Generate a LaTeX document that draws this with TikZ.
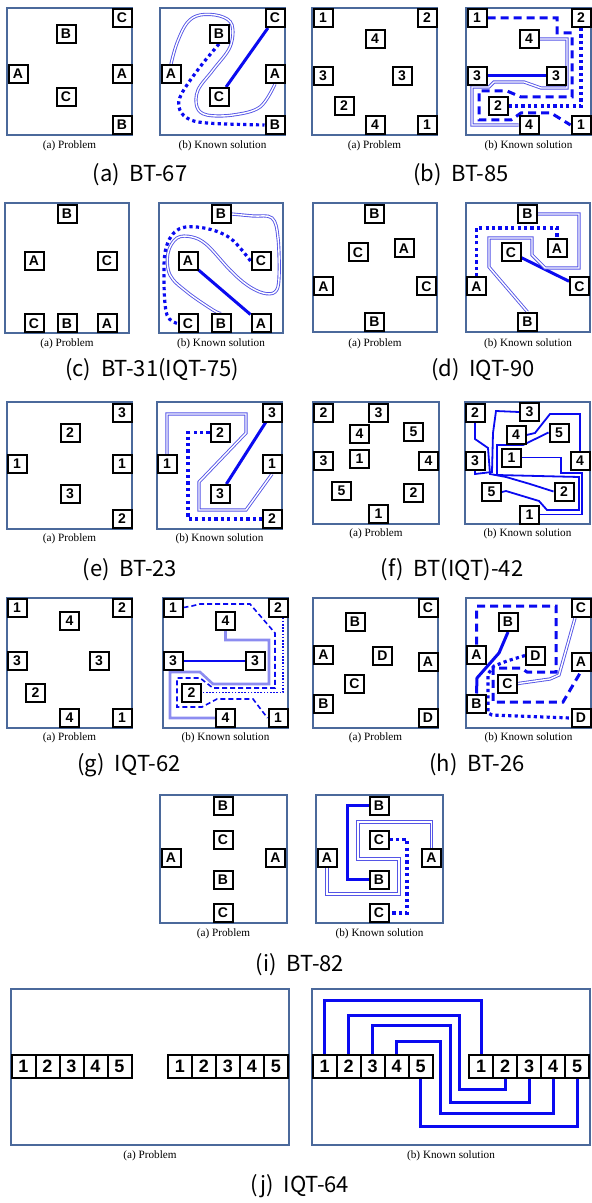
\documentclass[tikz,border=0pt]{standalone}
\usepackage{fontspec}
\setmainfont{Liberation Serif}
\newfontfamily\pinfont{Liberation Sans}
\newfontfamily\krfont{Noto Sans CJK KR}
\usetikzlibrary{backgrounds}

\definecolor{wireblue}{RGB}{10,10,240}
\definecolor{dblblue}{RGB}{85,85,230}
\definecolor{liteblue}{RGB}{140,140,240}
\definecolor{panelblue}{RGB}{75,105,155}

% Pin layouts (local panel coordinates, y runs downwards)
\newcommand\layoutA[1]{%
    \node[pin] (#1-C1) at (115,10) {C};
    \node[pin] (#1-B1) at (59,26) {B};
    \node[pin] (#1-A1) at (11,66) {A};
    \node[pin] (#1-A2) at (115,66) {A};
    \node[pin] (#1-C2) at (59,89) {C};
    \node[pin] (#1-B2) at (115,117) {B};
}
\newcommand\layoutB[1]{%
    \node[pin] (#1-1a) at (11,10) {1};
    \node[pin] (#1-2a) at (115,10) {2};
    \node[pin] (#1-4a) at (63,31) {4};
    \node[pin] (#1-3a) at (11,68) {3};
    \node[pin] (#1-3b) at (90,68) {3};
    \node[pin] (#1-2b) at (32,98) {2};
    \node[pin] (#1-4b) at (63,117) {4};
    \node[pin] (#1-1b) at (115,117) {1};
}
\newcommand\layoutC[1]{%
    \node[pin] (#1-B1) at (62,11) {B};
    \node[pin] (#1-A1) at (29,58) {A};
    \node[pin] (#1-C1) at (102,58) {C};
    \node[pin] (#1-C2) at (29,120.5) {C};
    \node[pin] (#1-B2) at (62,120.5) {B};
    \node[pin] (#1-A2) at (102,120.5) {A};
}
\newcommand\layoutD[1]{%
    \node[pin] (#1-B1) at (61.5,11) {B};
    \node[pin] (#1-C1) at (45,49.5) {C};
    \node[pin] (#1-A1) at (91,45.5) {A};
    \node[pin] (#1-A2) at (10.5,83.5) {A};
    \node[pin] (#1-C2) at (113.5,83.5) {C};
    \node[pin] (#1-B2) at (61.5,119) {B};
}
\newcommand\layoutE[1]{%
    \node[pin] (#1-3a) at (115,10.5) {3};
    \node[pin] (#1-2a) at (63,30.5) {2};
    \node[pin] (#1-1a) at (10,62) {1};
    \node[pin] (#1-1b) at (115,62) {1};
    \node[pin] (#1-3b) at (63,92) {3};
    \node[pin] (#1-2b) at (115,117) {2};
}
\newcommand\layoutG[1]{%
    \node[pin] (#1-1a) at (10,9.5) {1};
    \node[pin] (#1-2a) at (115,9.5) {2};
    \node[pin] (#1-4a) at (62.5,22.5) {4};
    \node[pin] (#1-3a) at (10,63) {3};
    \node[pin] (#1-3b) at (92,63) {3};
    \node[pin] (#1-2b) at (28.5,94.5) {2};
    \node[pin] (#1-4b) at (62.5,120) {4};
    \node[pin] (#1-1b) at (115,120) {1};
}
\newcommand\layoutH[1]{%
    \node[pin] (#1-C1) at (115,10) {C};
    \node[pin] (#1-B1) at (42,24) {B};
    \node[pin] (#1-A1) at (10.5,56.5) {A};
    \node[pin] (#1-D1) at (69.5,57.5) {D};
    \node[pin] (#1-A2) at (115,63.5) {A};
    \node[pin] (#1-C2) at (41.5,85.5) {C};
    \node[pin] (#1-B2) at (10.5,105.5) {B};
    \node[pin] (#1-D2) at (115,120) {D};
}
\newcommand\layoutI[1]{%
    \node[pin] (#1-B1) at (63,10.5) {B};
    \node[pin] (#1-C1) at (63,44.5) {C};
    \node[pin] (#1-A1) at (11,62.5) {A};
    \node[pin] (#1-A2) at (115.5,62.5) {A};
    \node[pin] (#1-B2) at (63,84.5) {B};
    \node[pin] (#1-C2) at (63,118) {C};
}
\newcommand\layoutJ[1]{%
    \node[widepin] (#1-L1) at (12.5,77) {1};
    \node[widepin] (#1-L2) at (36.5,77) {2};
    \node[widepin] (#1-L3) at (60.5,77) {3};
    \node[widepin] (#1-L4) at (84.5,77) {4};
    \node[widepin] (#1-L5) at (108.5,77) {5};
    \node[widepin] (#1-R1) at (169,77) {1};
    \node[widepin] (#1-R2) at (193,77) {2};
    \node[widepin] (#1-R3) at (217,77) {3};
    \node[widepin] (#1-R4) at (241,77) {4};
    \node[widepin] (#1-R5) at (265,77) {5};
}

\begin{document}
\begin{tikzpicture}[
    x=0.5pt, y=-0.5pt,
    pin/.style={
        draw,
        line width=1pt,
        fill=white,
        inner sep=0pt,
        minimum width=9.5pt,
        minimum height=9pt,
        font=\pinfont\bfseries\fontsize{7}{8}\selectfont
    },
    widepin/.style={
        pin,
        minimum width=12pt,
        minimum height=11.5pt,
        font=\pinfont\bfseries\fontsize{9}{10}\selectfont
    },
    panel/.style={draw=panelblue, line width=0.6pt},
    caption/.style={font=\fontsize{5.6}{6.5}\selectfont},
    title/.style={font=\krfont\fontsize{11}{12}\selectfont},
    wire/.style={draw=wireblue, line width=1.5pt},
    thinwire/.style={draw=wireblue, line width=0.9pt},
    dotwire/.style={draw=wireblue, line width=1.6pt, dash pattern=on 1.6pt off 1.6pt},
    dashwire/.style={draw=wireblue, line width=1.5pt, dash pattern=on 4pt off 2.5pt},
    thindash/.style={draw=wireblue, line width=0.8pt, dash pattern=on 2.5pt off 1.5pt},
    thindot/.style={draw=wireblue, line width=0.8pt, dash pattern=on 0.8pt off 0.8pt},
    dblwire/.style={draw=dblblue, double=white, line width=0.45pt, double distance=0.7pt},
    litewire/.style={draw=liteblue, line width=1.3pt}
]
    \useasboundingbox (0,0) rectangle (591,1203);

    % (a) BT-67
    \begin{scope}[shift={(7,8)}]
        \draw[panel] (0,0) rectangle (125,127);
        \layoutA{ap}
    \end{scope}
    \begin{scope}[shift={(160,8)}]
        \draw[panel] (0,0) rectangle (125,127);
        \layoutA{as}
        \begin{scope}[on background layer]
            \draw[wire] (as-C1) -- (as-C2);
            \draw[dotwire] plot[smooth, tension=0.6] coordinates {(as-B1.south) (40,59) (22,85) (19,99) (27,110) (47,115) (as-B2.west)};
            \draw[dblwire] plot[smooth, tension=0.6] coordinates {(as-A1.north) (17,35) (27,15) (40,7) (60,8) (72,17) (70,39) (53,62) (38,82) (37,99) (47,107) (73,107) (100,99) (as-A2.south)};
        \end{scope}
    \end{scope}
    \node[caption] (capAp) at (69.5,146) {(a) Problem};
    \node[caption] (capAs) at (222.5,146) {(b) Known solution};
    \node[title] (titleA) at (140,175) {(a)~~BT-67};

    % (b) BT-85
    \begin{scope}[shift={(312,8)}]
        \draw[panel] (0,0) rectangle (125,127);
        \layoutB{bp}
    \end{scope}
    \begin{scope}[shift={(466,8)}]
        \draw[panel] (0,0) rectangle (125,127);
        \layoutB{bs}
        \begin{scope}[on background layer]
            \draw[wire] (bs-3a) -- (bs-3b);
            \draw[dashwire] (bs-1a.east) -- (91,10) -- (91,25) -- (106,25) -- (106,89) -- (55,89) -- (41,83) -- (13,83) -- (13,112) -- (45,112) -- (55,105) -- (85,105) -- (bs-1b.west);
            \draw[dotwire] (bs-2a.south) |- (bs-2b.east);
            \draw[dblwire] (bs-4a.east) -- (101,31) -- (101,80) -- (75,80) -- (58,74) -- (28,74) -- (23,79) -- (6,79) -- (6,117) -- (bs-4b.west);
        \end{scope}
    \end{scope}
    \node[caption] (capBp) at (374.5,146) {(a) Problem};
    \node[caption] (capBs) at (528.5,146) {(b) Known solution};
    \node[title] (titleB) at (461,175) {(b)~~BT-85};

    % (c) BT-31(IQT-75)
    \begin{scope}[shift={(5,203)}]
        \draw[panel] (0,0) rectangle (124,130);
        \layoutC{cp}
    \end{scope}
    \begin{scope}[shift={(159,203)}]
        \draw[panel] (0,0) rectangle (124,130);
        \layoutC{cs}
        \begin{scope}[on background layer]
            \draw[wire] (cs-A1) -- (cs-A2);
            \draw[dotwire] plot[smooth, tension=0.6] coordinates {(cs-C1.west) (71,35) (45,25) (20,26) (7,45) (5,80) (8,112) (cs-C2.west)};
            \draw[dblwire] plot[smooth, tension=0.6] coordinates {(cs-B1.east) (94,13) (113,15) (119,35) (120,75) (116,89) (104,90) (88,82) (71,67) (48,42) (33,34) (18,35) (9,50) (11,72) (28,89) (54,107) (cs-B2.north)};
        \end{scope}
    \end{scope}
    \node[caption] (capCp) at (67,344) {(a) Problem};
    \node[caption] (capCs) at (221,344) {(b) Known solution};
    \node[title] (titleC) at (152,370) {(c)~~BT-31(IQT-75)};

    % (d) IQT-90
    \begin{scope}[shift={(313,203)}]
        \draw[panel] (0,0) rectangle (124,129);
        \layoutD{dp}
    \end{scope}
    \begin{scope}[shift={(466,203)}]
        \draw[panel] (0,0) rectangle (124,129);
        \layoutD{ds}
        \begin{scope}[on background layer]
            \draw[wire] (ds-C1) -- (ds-C2);
            \draw[dotwire] (ds-A2.north) |- (91,25) -| (ds-A1.north);
            \draw[dblwire] (ds-B1.east) -- (113,11) -- (113,65) -- (79,65) -- (66,52) -- (66,35) -- (23,35) -- (23,64) -- (ds-B2.north);
        \end{scope}
    \end{scope}
    \node[caption] (capDp) at (375,344) {(a) Problem};
    \node[caption] (capDs) at (528,344) {(b) Known solution};
    \node[title] (titleD) at (483,370) {(d)~~IQT-90};

    % (e) BT-23
    \begin{scope}[shift={(7,402)}]
        \draw[panel] (0,0) rectangle (125,127);
        \layoutE{ep}
    \end{scope}
    \begin{scope}[shift={(157,402)}]
        \draw[panel] (0,0) rectangle (125,127);
        \layoutE{es}
        \begin{scope}[on background layer]
            \draw[wire] (es-3a) -- (es-3b);
            \draw[dotwire] (es-2a.west) -| (31,116) |- (es-2b.west);
            \draw[dblwire] (es-1a.north) |- (89,12) -- (89,31) -- (42,80) -- (42,108) -- (89,108) -- (es-1b.south);
        \end{scope}
    \end{scope}
    \node[caption] (capEp) at (69.5,539) {(a) Problem};
    \node[caption] (capEs) at (219.5,539) {(b) Known solution};
    \node[title] (titleE) at (130,570) {(e)~~BT-23};

    % (f) BT(IQT)-42
    \begin{scope}[shift={(313,402)}]
        \draw[panel] (0,0) rectangle (126,122);
        \node[pin] (fp-2a) at (10.5,10.5) {2};
        \node[pin] (fp-3a) at (65.5,10.5) {3};
        \node[pin] (fp-4a) at (46.5,32) {4};
        \node[pin] (fp-5a) at (100.5,29.5) {5};
        \node[pin] (fp-3b) at (10.5,59) {3};
        \node[pin] (fp-1a) at (46.5,56.5) {1};
        \node[pin] (fp-4b) at (115.5,59) {4};
        \node[pin] (fp-5b) at (28.5,89) {5};
        \node[pin] (fp-2b) at (100.5,90.5) {2};
        \node[pin] (fp-1b) at (65.5,112) {1};
    \end{scope}
    \begin{scope}[shift={(465,402)}]
        \draw[panel] (0,0) rectangle (125,122);
        \node[pin] (fs-2a) at (10,11) {2};
        \node[pin] (fs-3a) at (64.5,10) {3};
        \node[pin] (fs-4a) at (51,33) {4};
        \node[pin] (fs-5a) at (94,30.5) {5};
        \node[pin] (fs-1a) at (46.5,55.5) {1};
        \node[pin] (fs-3b) at (10,59) {3};
        \node[pin] (fs-4b) at (115,59) {4};
        \node[pin] (fs-5b) at (26.5,90) {5};
        \node[pin] (fs-2b) at (99,89.5) {2};
        \node[pin] (fs-1b) at (64.5,112.5) {1};
        \begin{scope}[on background layer]
            \draw[thinwire] (fs-4a.east) -- (70,31) -- (85,12) -- (115,12) -- (fs-4b.north);
            \draw[thinwire] (fs-1a.east) -| (96,71) -| (117,90) |- (fs-1b.east);
            \draw[thinwire] (fs-5a.west) -- (58,43) -- (32,43) -- (32,73) -- (114,75) -- (114,108) -- (82,108) -- (74,99) -- (41,89) -- (fs-5b.east);
            \draw[thinwire] (fs-3a.west) -- (31,9) -- (28,31) -- (27,70) -- (10,72) -- (fs-3b.south);
            \draw[thinwire] (fs-2a.south) -- (10,37) -- (23,46) -- (25,72) -- (41,75) -- (65,82) -- (fs-2b.west);
        \end{scope}
    \end{scope}
    \node[caption] (capFp) at (376,534) {(a) Problem};
    \node[caption] (capFs) at (527.5,534) {(b) Known solution};
    \node[title] (titleF) at (452,570) {(f)~~BT(IQT)-42};

    % (g) IQT-62
    \begin{scope}[shift={(7,598)}]
        \draw[panel] (0,0) rectangle (125,130);
        \layoutG{gp}
    \end{scope}
    \begin{scope}[shift={(163,598)}]
        \draw[panel] (0,0) rectangle (125,130);
        \layoutG{gs}
        \begin{scope}[on background layer]
            \draw[thinwire] (gs-3a) -- (gs-3b);
            \draw[thindash] (gs-1a.east) -- (29,8) -- (37,6) -- (87,6) -- (112,35) -- (112,90) -- (50,90) -- (37,80) -- (14,80) -- (14,109) -- (39,109) -- (54,101) -- (90,101) -- (gs-1b.west);
            \draw[thindot] ([xshift=2.5pt]gs-2a.south) |- (gs-2b.east);
            \draw[litewire] (gs-4a.south) |- (106,42) -- (106,86) -- (50,86) -- (37,74) -- (7,74) -- (7,120) -- (gs-4b.west);
        \end{scope}
    \end{scope}
    \node[caption] (capGp) at (69.5,738) {(a) Problem};
    \node[caption] (capGs) at (225.5,738) {(b) Known solution};
    \node[title] (titleG) at (129,765) {(g)~~IQT-62};

    % (h) BT-26
    \begin{scope}[shift={(313,598)}]
        \draw[panel] (0,0) rectangle (125,130);
        \layoutH{hp}
    \end{scope}
    \begin{scope}[shift={(466,598)}]
        \draw[panel] (0,0) rectangle (125,130);
        \layoutH{hs}
        \begin{scope}[on background layer]
            \draw[wire] (hs-B1.south) -- (33,55) -- (11,80) -- (hs-B2.north);
            \draw[dashwire] (hs-A1.north) |- (90,8) -- (90,74) -- (61,74) -- (55,70) -- (27,70) -- (27,104) -- (97,104) -- (hs-A2.south);
            \draw[dotwire] (hs-D1.west) -- (41,63) -- (28,68) -- (22,76) -- (22,115) -- (26,117) -- (hs-D2.west);
            \draw[dblwire] (hs-C2.east) -- (84,81) -- (93,77) -- ([xshift=-3pt]hs-C1.south);
        \end{scope}
    \end{scope}
    \node[caption] (capHp) at (375.5,738) {(a) Problem};
    \node[caption] (capHs) at (528.5,738) {(b) Known solution};
    \node[title] (titleH) at (477,765) {(h)~~BT-26};

    % (i) BT-82
    \begin{scope}[shift={(160,795)}]
        \draw[panel] (0,0) rectangle (127,128);
        \layoutI{ip}
    \end{scope}
    \begin{scope}[shift={(316,795)}]
        \draw[panel] (0,0) rectangle (127,128);
        \layoutI{is}
        \begin{scope}[on background layer]
            \draw[wire] (is-B1.west) -| (31,50) |- (is-B2.west);
            \draw[dotwire] (is-C1.east) -| (91,80) |- (is-C2.east);
            \draw[dblwire] (is-A2.north) |- (42,27) -- (42,64) -- (83,64) -- (83,99) -| (is-A1.south);
        \end{scope}
    \end{scope}
    \node[caption] (capIp) at (223.5,934) {(a) Problem};
    \node[caption] (capIs) at (379.5,934) {(b) Known solution};
    \node[title] (titleI) at (300,965) {(i)~~BT-82};

    % (j) IQT-64
    \begin{scope}[shift={(11,989)}]
        \draw[panel] (0,0) rectangle (278,156);
        \layoutJ{jp}
    \end{scope}
    \begin{scope}[shift={(312,989)}]
        \draw[panel] (0,0) rectangle (278,156);
        \layoutJ{js}
        \begin{scope}[on background layer]
            \draw[wire] (js-L1.north) |- (100,11) -| (js-R1.north);
            \draw[wire] (js-L2.north) |- (147,26) -- (147,100) -| (js-R2.south);
            \draw[wire] (js-L3.north) |- (138,36) -- (138,113) -| (js-R3.south);
            \draw[wire] (js-L4.north) |- (128,52) -- (128,124) -| (js-R4.south);
            \draw[wire] (js-L5.south) |- (200,137) -| (js-R5.south);
        \end{scope}
    \end{scope}
    \node[caption] (capJp) at (150,1156) {(a) Problem};
    \node[caption] (capJs) at (451,1156) {(b) Known solution};
    \node[title] (titleJ) at (300,1186) {(j)~~IQT-64};

\end{tikzpicture}
\end{document}
